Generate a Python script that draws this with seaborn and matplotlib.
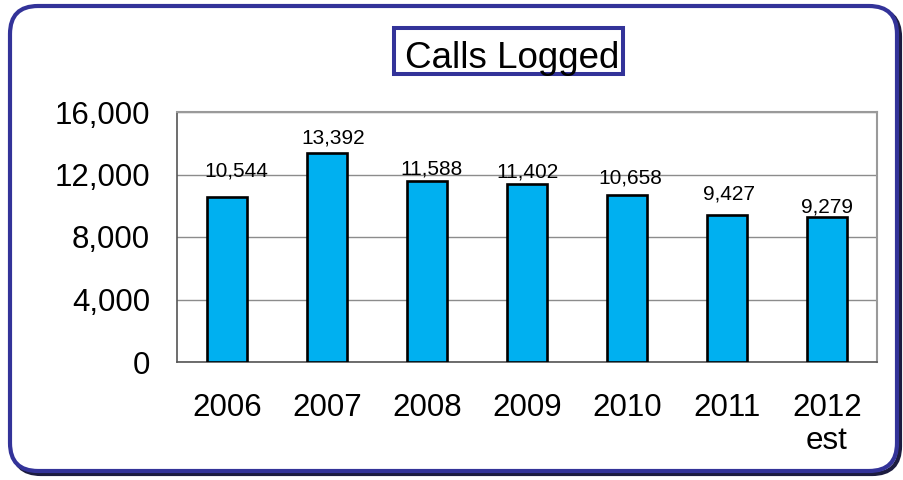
import matplotlib
matplotlib.use("Agg")
import matplotlib.pyplot as plt
from matplotlib.patches import FancyBboxPatch, Rectangle
from matplotlib.transforms import IdentityTransform
from matplotlib.ticker import FuncFormatter, FixedLocator
import seaborn as sns
import pandas as pd

# Yearly call volume
years = ["2006", "2007", "2008", "2009", "2010", "2011", "2012\nest"]
calls = [10544, 13392, 11588, 11402, 10658, 9427, 9279]
y_ticks = [0, 4000, 8000, 12000, 16000]
title = "Calls Logged"

# nudges for the value labels (points), so they sit clear of the gridlines
label_nudge = [(7.0, 14.8), (4.5, 6.3), (3.4, 4.3), (0.7, 4.8), (2.2, 8.4), (1.7, 11.3), (0.0, 3.6)]

sns.set_style("white")
plt.rcParams["font.family"] = ["Liberation Sans", "DejaVu Sans"]
plt.rcParams["text.color"] = "black"
plt.rcParams["xtick.labelcolor"] = "black"
plt.rcParams["ytick.labelcolor"] = "black"

BLUE_FRAME = "#333399"
BAR = "#00B0F0"
GRID = "#8c8c8c"

fig = plt.figure(figsize=(9.04, 4.8), dpi=100)
px = IdentityTransform()

# rounded outer frame with a small drop shadow
shadow = FancyBboxPatch((13, 6), 887, 465, boxstyle="round,pad=0,rounding_size=28",
                        transform=px, facecolor="none", edgecolor="#1c1c40",
                        linewidth=3.0, zorder=-3)
frame = FancyBboxPatch((10, 9), 887, 465, boxstyle="round,pad=0,rounding_size=28",
                       transform=px, facecolor="white", edgecolor=BLUE_FRAME,
                       linewidth=3.0, zorder=-2)
fig.patches.extend([shadow, frame])

ax = fig.add_axes([177 / 904, 118 / 480, 700 / 904, 250 / 480])

df = pd.DataFrame({"year": years, "calls": calls})
sns.barplot(data=df, x="year", y="calls", color=BAR, saturation=1, width=0.4,
            edgecolor="black", linewidth=1.9, ax=ax, zorder=3)

ax.set_ylim(y_ticks[0], y_ticks[-1])
ax.set_xlim(-0.5, len(years) - 0.5)
ax.set_yticks(y_ticks)
ax.yaxis.set_major_formatter(FuncFormatter(lambda v, _: f"{int(v):,}"))
ax.set_xlabel("")
ax.set_ylabel("")

ax.grid(axis="y", color=GRID, linewidth=1.0, zorder=0)
ax.set_axisbelow(True)
for side in ["top", "right"]:
    ax.spines[side].set_color("#9a9a9a")
    ax.spines[side].set_linewidth(1.5)
for side in ["left", "bottom"]:
    ax.spines[side].set_color("#555555")
    ax.spines[side].set_linewidth(1.2)

ax.tick_params(axis="y", labelsize=22.5, length=6.5, width=1, color="#555555",
               pad=13, labelcolor="black")
ax.tick_params(axis="x", which="major", labelsize=22.5, length=0, pad=22,
               labelcolor="black")
ax.xaxis.set_minor_locator(FixedLocator([i - 0.5 for i in range(len(years) + 1)]))
ax.tick_params(axis="x", which="minor", length=6, width=1, color="#9a9a9a")
for lbl in ax.get_xticklabels():
    lbl.set_linespacing(1.15)

# value labels above each bar
for i, v in enumerate(calls):
    dx, dy = label_nudge[i]
    ax.annotate(f"{v:,}", (i, v), xytext=(dx, dy), textcoords="offset points",
                ha="center", va="baseline", fontsize=15, color="black")

# boxed title
fig.patches.append(Rectangle((394, 406.5), 228.5, 46, transform=px, facecolor="white",
                             edgecolor=BLUE_FRAME, linewidth=2.9, zorder=1))
fig.text(512.5, 412, title, transform=px, ha="center", va="baseline",
         fontsize=26.5, color="black", zorder=2)

fig.savefig("out.png", dpi=100)
